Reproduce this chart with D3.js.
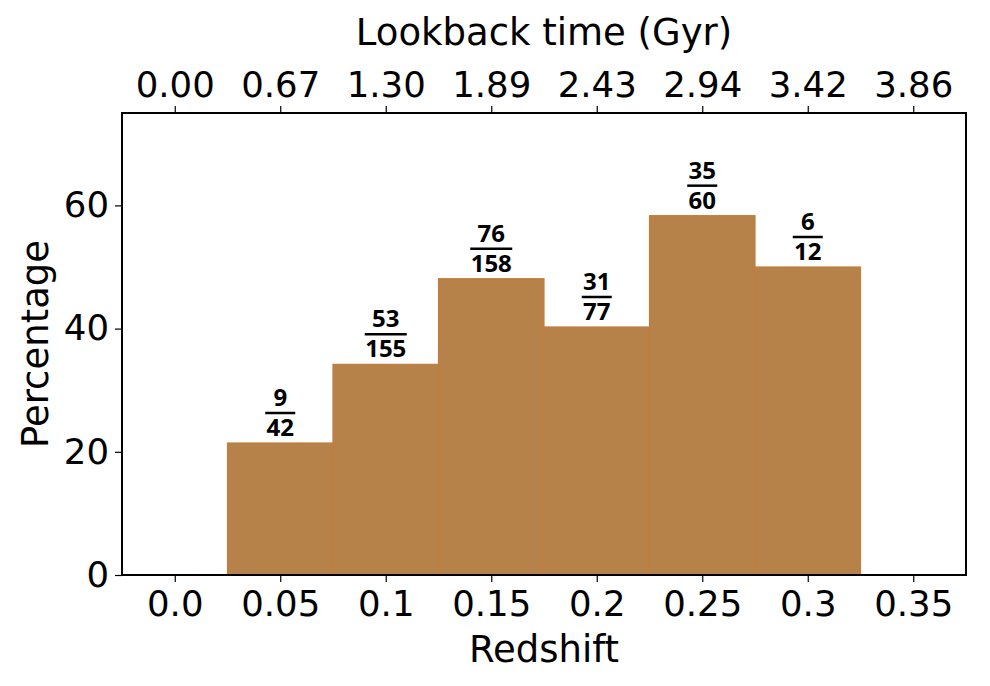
<!DOCTYPE html>
<html>
<head>
<meta charset="utf-8">
<script src="https://cdn.jsdelivr.net/npm/d3@7"></script>
<style>
  body { margin: 0; background: #fff; }
  text { font-family: "DejaVu Sans", sans-serif; fill: #000; }
  .frac { font-family: "Open Sans", sans-serif; font-weight: 700; }
</style>
</head>
<body>
<script>
var width = 990, height = 686;
var margin = {left: 122, right: 24, top: 113, bottom: 111};

// redshift bin centres and counts
var redshift = [0.05, 0.1, 0.15, 0.2, 0.25, 0.3];
var numer = [9, 53, 76, 31, 35, 6];
var denom = [42, 155, 158, 77, 60, 12];
var binWidth = 0.05;

// tick labels
var zTicks = [0.0, 0.05, 0.1, 0.15, 0.2, 0.25, 0.3, 0.35];
var zLabels = ["0.0", "0.05", "0.1", "0.15", "0.2", "0.25", "0.3", "0.35"];
var lookback = ["0.00", "0.67", "1.30", "1.89", "2.43", "2.94", "3.42", "3.86"];
var yTicks = [0, 20, 40, 60];

var pct = numer.map(function(n, i) { return 100 * n / denom[i]; });

var svg = d3.select("body")
    .append("svg")
    .attr("width", width)
    .attr("height", height);

var xScale = d3.scaleLinear()
    .domain([-0.025, 0.375])
    .range([margin.left, width - margin.right]);

var yScale = d3.scaleLinear()
    .domain([0, 75])
    .range([height - margin.bottom, margin.top]);

// bars
svg.selectAll("rect.bar")
    .data(pct)
    .enter()
    .append("rect")
    .attr("class", "bar")
    .attr("x", function(d, i) { return xScale(redshift[i] - binWidth / 2); })
    .attr("y", function(d) { return yScale(d); })
    .attr("width", function(d, i) { return xScale(redshift[i] + binWidth / 2) - xScale(redshift[i] - binWidth / 2); })
    .attr("height", function(d) { return yScale(0) - yScale(d); })
    .attr("fill", "#b78249")
    .attr("stroke", "#c27d3c")
    .attr("stroke-width", 1.2);

// fraction labels above bars (one text, two lines, plus a bar)
var fracs = svg.selectAll("g.frac")
    .data(pct)
    .enter()
    .append("g")
    .attr("class", "frac")
    .attr("transform", function(d, i) {
        return "translate(" + xScale(redshift[i]) + "," + yScale(d) + ")";
    });

var ft = fracs.append("text")
    .attr("class", "frac")
    .attr("text-anchor", "middle")
    .attr("font-size", 24);

ft.append("tspan")
    .attr("x", 0)
    .attr("y", -37)
    .text(function(d, i) { return numer[i]; });

ft.append("tspan")
    .attr("x", 0)
    .attr("y", -7)
    .text(function(d, i) { return denom[i]; });

fracs.append("line")
    .attr("x1", function(d, i) { return String(denom[i]).length > 2 ? -21 : -15; })
    .attr("x2", function(d, i) { return String(denom[i]).length > 2 ? 21 : 15; })
    .attr("y1", -30)
    .attr("y2", -30)
    .attr("stroke", "#000")
    .attr("stroke-width", 2.5);

// bottom axis
var xAxis = d3.axisBottom(xScale)
    .tickValues(zTicks)
    .tickFormat(function(d, i) { return zLabels[i]; })
    .tickSize(7)
    .tickPadding(9);

svg.append("g")
    .attr("class", "axis")
    .attr("transform", "translate(0," + yScale(0) + ")")
    .call(xAxis);

// top axis (lookback time)
var topAxis = d3.axisTop(xScale)
    .tickValues(zTicks)
    .tickFormat(function(d, i) { return lookback[i]; })
    .tickSize(7)
    .tickPadding(9);

svg.append("g")
    .attr("class", "axis")
    .attr("transform", "translate(0," + margin.top + ")")
    .call(topAxis);

// left axis
var yAxis = d3.axisLeft(yScale)
    .tickValues(yTicks)
    .tickSize(7)
    .tickPadding(6);

svg.append("g")
    .attr("class", "axis")
    .attr("transform", "translate(" + margin.left + ",0)")
    .call(yAxis);

svg.selectAll(".axis .domain").remove();
svg.selectAll(".axis text")
    .attr("font-family", "DejaVu Sans")
    .attr("font-size", 35.5);
svg.selectAll(".axis line").attr("stroke", "#000").attr("stroke-width", 1.2);

// frame
svg.append("rect")
    .attr("x", margin.left)
    .attr("y", margin.top)
    .attr("width", width - margin.left - margin.right)
    .attr("height", height - margin.top - margin.bottom)
    .attr("fill", "none")
    .attr("stroke", "#000")
    .attr("stroke-width", 2);

// axis titles
svg.append("text")
    .attr("x", xScale(0.175))
    .attr("y", 662)
    .attr("text-anchor", "middle")
    .attr("font-size", 37)
    .text("Redshift");

svg.append("text")
    .attr("x", xScale(0.175))
    .attr("y", 45)
    .attr("text-anchor", "middle")
    .attr("font-size", 37)
    .text("Lookback time (Gyr)");

svg.append("text")
    .attr("transform", "translate(48," + yScale(37.5) + ") rotate(-90)")
    .attr("text-anchor", "middle")
    .attr("font-size", 37)
    .text("Percentage");
</script>
</body>
</html>
